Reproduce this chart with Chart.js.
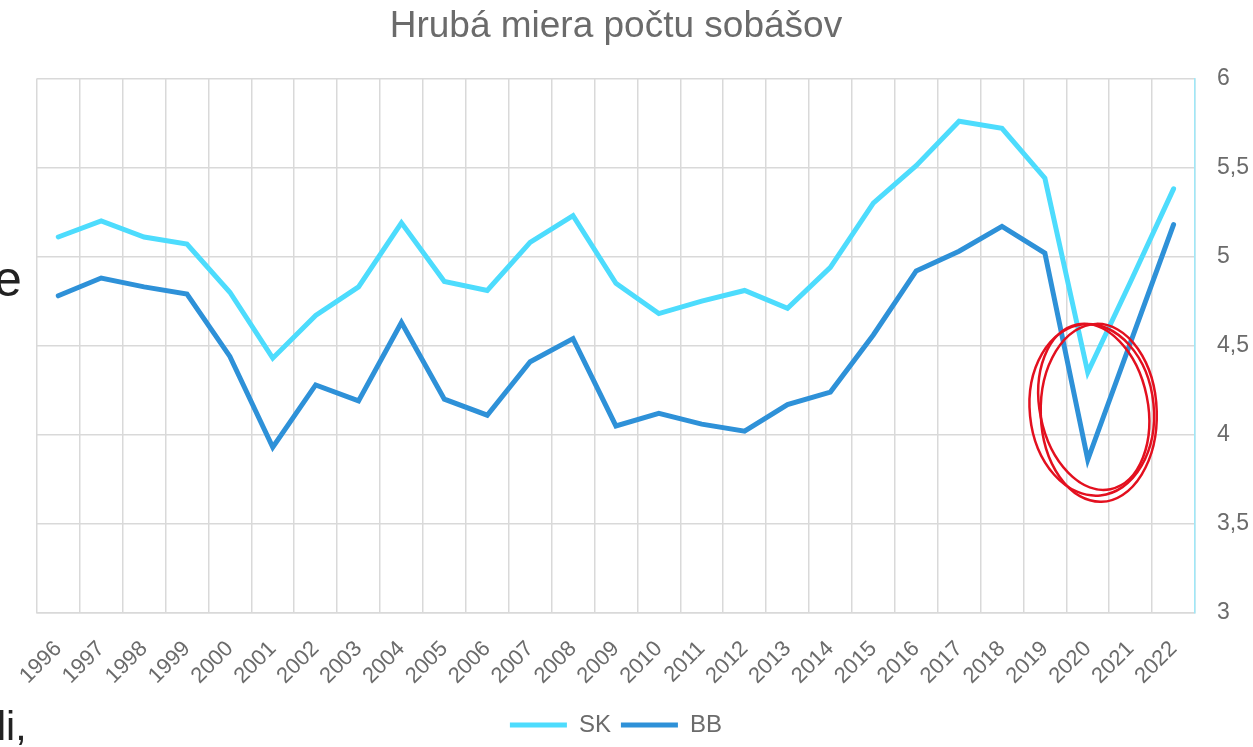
<!DOCTYPE html>
<html>
<head>
<meta charset="utf-8">
<script src="https://cdn.jsdelivr.net/npm/chart.js@4/dist/chart.umd.min.js"></script>
<style>
  body { margin: 0; background: #fff; }
  #wrap { position: relative; width: 1253px; height: 747px; overflow: hidden; }
  .frag { position: absolute; font-family: "Liberation Sans", Arial, sans-serif; color: #222; }
</style>
</head>
<body>
<div id="wrap">
  <canvas id="marriageChart" width="1253" height="747"></canvas>
  <div class="frag" style="left:-6px; top:254px; font-size:50px; line-height:50px;">e</div>
  <div class="frag" style="left:-3px; top:706px; font-size:41px; line-height:41px;">li,</div>
</div>
<script>
var years = ['1996','1997','1998','1999','2000','2001','2002','2003','2004','2005','2006','2007','2008','2009',
             '2010','2011','2012','2013','2014','2015','2016','2017','2018','2019','2020','2021','2022'];
var skValues = [5.11, 5.20, 5.11, 5.07, 4.80, 4.43, 4.67, 4.83, 5.19, 4.86, 4.81, 5.08, 5.23, 4.85,
                4.68, 4.75, 4.81, 4.71, 4.94, 5.30, 5.51, 5.76, 5.72, 5.44, 4.35, 4.86, 5.38];
var bbValues = [4.78, 4.88, 4.83, 4.79, 4.44, 3.93, 4.28, 4.19, 4.63, 4.20, 4.11, 4.41, 4.54, 4.05,
                4.12, 4.06, 4.02, 4.17, 4.24, 4.56, 4.92, 5.03, 5.17, 5.02, 3.86, 4.52, 5.18];
var yTicks = [3, 3.5, 4, 4.5, 5, 5.5, 6];

// red hand-drawn circle around 2020
var circlePlugin = {
    id: 'circle2020',
    afterDatasetsDraw: function(chart) {
        var ctx = chart.ctx;
        var cx = chart.scales.x.getPixelForValue(24) + 6;
        var cy = chart.scales.y.getPixelForValue(4.14);
        var loops = [[-2, 0, 62, 86, -0.10], [5, 3, 58, 89, -0.03], [0, -3, 54, 84, -0.20]];
        ctx.save();
        ctx.strokeStyle = '#e3101f';
        ctx.lineWidth = 2.5;
        loops.forEach(function(l) {
            ctx.beginPath();
            ctx.ellipse(cx + l[0], cy + l[1], l[2], l[3], l[4], 0, Math.PI * 2);
            ctx.stroke();
        });
        ctx.restore();
    }
};

var ctx = document.getElementById('marriageChart').getContext('2d');
new Chart(ctx, {
    type: 'line',
    data: {
        labels: years,
        datasets: [{
            label: 'SK',
            data: skValues,
            borderColor: '#4ddcfd',
            backgroundColor: '#4ddcfd',
            borderWidth: 5,
            borderCapStyle: 'round',
            pointRadius: 0,
            tension: 0
        }, {
            label: 'BB',
            data: bbValues,
            borderColor: '#2e91d8',
            backgroundColor: '#2e91d8',
            borderWidth: 5,
            borderCapStyle: 'round',
            pointRadius: 0,
            tension: 0
        }]
    },
    options: {
        responsive: false,
        animation: false,
        layout: { padding: { left: 36, right: 0, top: 5, bottom: 0 } },
        plugins: {
            title: {
                display: true,
                fullSize: false,
                text: 'Hrubá miera počtu sobášov',
                color: '#6b6b6b',
                font: { family: 'Liberation Sans', size: 37, weight: 'normal' },
                padding: { top: 0, bottom: 29 }
            },
            legend: {
                position: 'bottom',
                fullSize: false,
                labels: {
                    usePointStyle: true,
                    pointStyle: 'line',
                    pointStyleWidth: 57,
                    boxHeight: 6,
                    color: '#6b6b6b',
                    font: { family: 'Liberation Sans', size: 24 },
                    padding: 10
                }
            },
            tooltip: { enabled: false }
        },
        scales: {
            x: {
                offset: true,
                grid: { color: '#d9d9d9', lineWidth: 1.5, drawTicks: false, offset: true },
                border: { color: '#d9d9d9', width: 1.5 },
                ticks: {
                    color: '#6b6b6b',
                    font: { family: 'Liberation Sans', size: 22 },
                    minRotation: 45,
                    maxRotation: 45,
                    padding: 23,
                    autoSkip: false
                },
                afterFit: function(scale) { scale.height = 90; }
            },
            y: {
                position: 'right',
                min: 3,
                max: 6,
                afterBuildTicks: function(scale) {
                    scale.ticks = yTicks.map(function(v) { return { value: v }; });
                },
                afterFit: function(scale) { scale.width = 58; },
                grid: { color: '#d9d9d9', lineWidth: 1.5, drawTicks: false },
                border: { color: '#9fe8f8', width: 1.5 },
                ticks: {
                    color: '#6b6b6b',
                    font: { family: 'Liberation Sans', size: 23 },
                    padding: 22,
                    callback: function(v) { return String(v).replace('.', ','); }
                }
            }
        }
    },
    plugins: [circlePlugin]
});
</script>
</body>
</html>
